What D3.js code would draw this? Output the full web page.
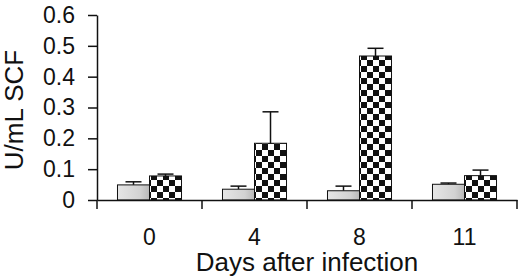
<!DOCTYPE html>
<html>
<head>
<meta charset="utf-8">
<script src="https://cdn.jsdelivr.net/npm/d3@7"></script>
<style>
  body { margin: 0; background: #fff; }
  text { font-family: "Liberation Sans", Arial, sans-serif; fill: #111; }
</style>
</head>
<body>
<script>
// data
const days = ['0', '4', '8', '11'];
const series = ['control', 'infected'];
const controlValues = [0.049, 0.035, 0.030, 0.051];
const controlErrors = [0.010, 0.010, 0.015, 0.004];
const infectedValues = [0.078, 0.184, 0.467, 0.079];
const infectedErrors = [0.006, 0.102, 0.025, 0.018];
const yTicks = [0, 0.1, 0.2, 0.3, 0.4, 0.5, 0.6];

const width = 520;
const height = 278;
const margin = { top: 15, right: 3, bottom: 78, left: 97 };

const svg = d3.select('body')
  .append('svg')
  .attr('width', width)
  .attr('height', height);

const defs = svg.append('defs');

// checkerboard fill for infected bars
const pat = defs.append('pattern')
  .attr('id', 'checker')
  .attr('patternUnits', 'userSpaceOnUse')
  .attr('width', 12)
  .attr('height', 12);
pat.append('rect').attr('width', 12).attr('height', 12).attr('fill', '#fff');
pat.append('rect').attr('width', 6).attr('height', 6).attr('fill', '#111');
pat.append('rect').attr('x', 6).attr('y', 6).attr('width', 6).attr('height', 6).attr('fill', '#111');

// light grey, slightly darker to the right
const grad = defs.append('linearGradient').attr('id', 'grey');
grad.append('stop').attr('offset', '0%').attr('stop-color', '#e6e6e6');
grad.append('stop').attr('offset', '70%').attr('stop-color', '#d2d2d2');
grad.append('stop').attr('offset', '100%').attr('stop-color', '#b8b8b8');

const x0 = d3.scaleBand()
  .domain(days)
  .range([margin.left, width - margin.right]);

const x1 = d3.scaleBand()
  .domain(series)
  .range([0, x0.bandwidth()])
  .paddingOuter(0.64);

const y = d3.scaleLinear()
  .domain([0, 0.6])
  .range([height - margin.bottom, margin.top]);

const rows = days.map((d, i) => ({
  day: d,
  bars: [
    { key: 'control', value: controlValues[i], err: controlErrors[i] },
    { key: 'infected', value: infectedValues[i], err: infectedErrors[i] },
  ],
}));

const groups = svg.append('g')
  .selectAll('g')
  .data(rows)
  .join('g')
  .attr('transform', d => `translate(${x0(d.day)},0)`);

// error bars (upper only)
groups.selectAll('.err')
  .data(d => d.bars)
  .join('g')
  .attr('class', 'err')
  .each(function (d) {
    const g = d3.select(this);
    const cx = x1(d.key) + x1.bandwidth() / 2;
    g.append('line')
      .attr('x1', cx).attr('x2', cx)
      .attr('y1', y(d.value)).attr('y2', y(d.value + d.err))
      .attr('stroke', '#111').attr('stroke-width', 1.5);
    g.append('line')
      .attr('x1', cx - 8).attr('x2', cx + 8)
      .attr('y1', y(d.value + d.err)).attr('y2', y(d.value + d.err))
      .attr('stroke', '#111').attr('stroke-width', 1.5);
  });

groups.selectAll('rect')
  .data(d => d.bars)
  .join('rect')
  .attr('x', d => x1(d.key))
  .attr('y', d => y(d.value))
  .attr('width', x1.bandwidth())
  .attr('height', d => y(0) - y(d.value))
  .attr('fill', d => d.key === 'control' ? 'url(#grey)' : 'url(#checker)')
  .attr('stroke', '#111')
  .attr('stroke-width', 1);

// y axis
const yAxis = d3.axisLeft(y)
  .tickValues(yTicks)
  .tickSize(9)
  .tickSizeOuter(0)
  .tickPadding(13)
  .tickFormat(d => d === 0 ? '0' : d.toFixed(1));

const gy = svg.append('g')
  .attr('transform', `translate(${margin.left},0)`)
  .call(yAxis);
gy.select('.domain').attr('stroke-width', 1.5).attr('stroke', '#111');
gy.selectAll('.tick line').attr('stroke-width', 1.5).attr('stroke', '#111');
gy.selectAll('.tick text')
  .style('font-size', '23px')
  .attr('font-family', null);

// x axis: labels at band centres, tick marks at band edges
const xAxis = d3.axisBottom(x0).tickSize(0).tickPadding(29);
const gx = svg.append('g')
  .attr('transform', `translate(0,${y(0)})`)
  .call(xAxis);
gx.select('.domain').attr('stroke-width', 1.5).attr('stroke', '#111');
gx.selectAll('.tick text')
  .style('font-size', '23px')
  .attr('font-family', null);

const edges = days.map(d => x0(d)).concat([x0.range()[1]]);
gx.selectAll('.edge')
  .data(edges)
  .join('line')
  .attr('class', 'edge')
  .attr('x1', d => d).attr('x2', d => d)
  .attr('y1', 0).attr('y2', 9)
  .attr('stroke', '#111')
  .attr('stroke-width', 1.5);

// axis titles
svg.append('text')
  .attr('x', (margin.left + width - margin.right) / 2)
  .attr('y', 271)
  .attr('text-anchor', 'middle')
  .style('font-size', '26px')
  .text('Days after infection');

svg.append('text')
  .attr('transform', 'translate(23,110) rotate(-90)')
  .attr('text-anchor', 'middle')
  .style('font-size', '26px')
  .text('U/mL SCF');
</script>
</body>
</html>
